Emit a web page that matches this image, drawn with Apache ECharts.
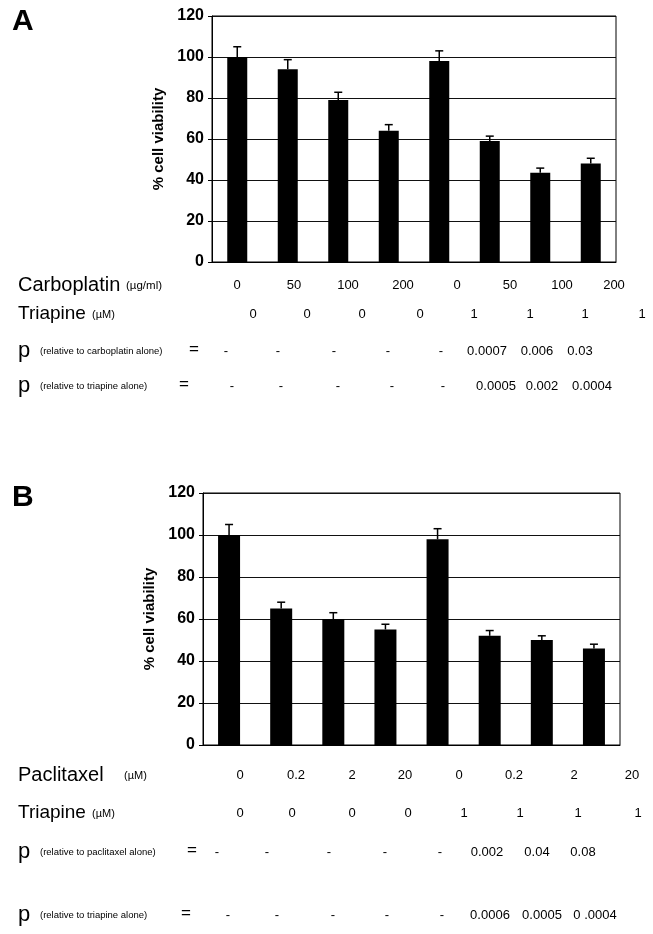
<!DOCTYPE html>
<html><head><meta charset="utf-8">
<script src="https://cdn.jsdelivr.net/npm/echarts@6/dist/echarts.min.js"></script>
<style>html,body{margin:0;padding:0;background:#fff}#c{width:653px;height:934px}</style>
</head><body><div id="c"></div>
<script>
// ---- data ----
const groups = ['G1','G2','G3','G4','G5','G6','G7','G8'];
const yTicks = [0, 20, 40, 60, 80, 100, 120];
// Panel A
const carboplatinDose = ['0','50','100','200','0','50','100','200'];
const triapineDoseA = ['0','0','0','0','1','1','1','1'];
const pVsCarboplatin = ['-','-','-','-','-','0.0007','0.006','0.03'];
const pVsTriapineA = ['-','-','-','-','-','0.0005','0.002','0.0004'];
const viabilityA = [100, 94, 79, 64, 98, 59, 43.5, 48];
const errorA = [5, 4.7, 3.8, 3, 5, 2.4, 2.3, 2.6];
// Panel B
const paclitaxelDose = ['0','0.2','2','20','0','0.2','2','20'];
const triapineDoseB = ['0','0','0','0','1','1','1','1'];
const pVsPaclitaxel = ['-','-','-','-','-','0.002','0.04','0.08'];
const pVsTriapineB = ['-','-','-','-','-','0.0006','0.0005','0 .0004'];
const viabilityB = [100, 65, 60, 55, 98, 52, 50, 46];
const errorB = [5, 3, 3, 2.5, 5, 2.5, 2, 2];

// ---- layout (positions only) ----
const FONT = '"Liberation Sans", Arial, sans-serif';
const rowX = {
  carbo: [237, 294, 348, 403, 457, 510, 562, 614],
  triaA: [253, 307, 362, 420, 474, 530, 585, 642],
  p1A:   [226, 278, 334, 388, 441, 487, 537, 580],
  p2A:   [232, 281, 338, 392, 443, 496, 542, 592],
  pacl:  [240, 296, 352, 405, 459, 514, 574, 632],
  triaB: [240, 292, 352, 408, 464, 520, 578, 638],
  p1B:   [217, 267, 329, 385, 440, 487, 537, 583],
  p2B:   [228, 277, 333, 387, 442, 490, 542, 595]
};
const rowY = {carbo: 285, triaA: 314, p1A: 351, p2A: 386, pacl: 775, triaB: 813, p1B: 852, p2B: 915};

function txt(s, x, y, size, weight, align) {
  return {type:'text', x:x, y:y, style:{text:s, font:(weight||'normal')+' '+size+'px '+FONT,
    fill:'#000', align:align||'center', verticalAlign:'middle'}};
}
function row(vals, xs, y) { return vals.map((v,i)=>txt(v, xs[i], y, 13)); }

const graphics = [].concat(
  [txt('A', 12, 22, 30, 'bold', 'left'), txt('B', 12, 498, 30, 'bold', 'left')],
  [txt('Carboplatin', 18, rowY.carbo, 20, 'normal', 'left'), txt('(µg/ml)', 126, rowY.carbo+1, 11.5, 'normal', 'left')],
  row(carboplatinDose, rowX.carbo, rowY.carbo),
  [txt('Triapine', 18, rowY.triaA, 19, 'normal', 'left'), txt('(µM)', 92, rowY.triaA+1, 11, 'normal', 'left')],
  row(triapineDoseA, rowX.triaA, rowY.triaA),
  [txt('p', 18, rowY.p1A, 22, 'normal', 'left'), txt('(relative to carboplatin alone)', 40, rowY.p1A, 9.5, 'normal', 'left'), txt('=', 194, rowY.p1A-2, 17, 'normal', 'center')],
  row(pVsCarboplatin, rowX.p1A, rowY.p1A),
  [txt('p', 18, rowY.p2A, 22, 'normal', 'left'), txt('(relative to triapine alone)', 40, rowY.p2A, 9.5, 'normal', 'left'), txt('=', 184, rowY.p2A-2, 17, 'normal', 'center')],
  row(pVsTriapineA, rowX.p2A, rowY.p2A),
  [txt('Paclitaxel', 18, rowY.pacl, 20, 'normal', 'left'), txt('(µM)', 124, rowY.pacl+1, 11, 'normal', 'left')],
  row(paclitaxelDose, rowX.pacl, rowY.pacl),
  [txt('Triapine', 18, rowY.triaB, 19, 'normal', 'left'), txt('(µM)', 92, rowY.triaB+1, 11, 'normal', 'left')],
  row(triapineDoseB, rowX.triaB, rowY.triaB),
  [txt('p', 18, rowY.p1B, 22, 'normal', 'left'), txt('(relative to paclitaxel alone)', 40, rowY.p1B, 9.5, 'normal', 'left'), txt('=', 192, rowY.p1B-2, 17, 'normal', 'center')],
  row(pVsPaclitaxel, rowX.p1B, rowY.p1B),
  [txt('p', 18, rowY.p2B, 22, 'normal', 'left'), txt('(relative to triapine alone)', 40, rowY.p2B, 9.5, 'normal', 'left'), txt('=', 186, rowY.p2B-2, 17, 'normal', 'center')],
  row(pVsTriapineB, rowX.p2B, rowY.p2B)
);

function errBar(params, api) {
  const i = api.value(0), v = api.value(1), e = api.value(2);
  const a = api.coord([i, v]), b = api.coord([i, v + e]);
  return {type:'group', children:[
    {type:'line', shape:{x1:a[0], y1:a[1], x2:b[0], y2:b[1]}, style:{stroke:'#000', lineWidth:1.5}},
    {type:'line', shape:{x1:b[0]-4, y1:b[1], x2:b[0]+4, y2:b[1]}, style:{stroke:'#000', lineWidth:1.5}}
  ]};
}
function yAxisCfg(gi) {
  return {gridIndex:gi, type:'value', min:yTicks[0], max:yTicks[yTicks.length-1], interval:yTicks[1]-yTicks[0],
    name:'% cell viability', nameLocation:'middle', nameGap:44,
    nameTextStyle:{fontFamily:FONT, fontWeight:'bold', fontSize:15, color:'#000'},
    axisLine:{show:true, lineStyle:{color:'#000', width:1}},
    axisTick:{show:true, length:4, lineStyle:{color:'#000'}},
    axisLabel:{fontFamily:FONT, fontWeight:'bold', fontSize:16, color:'#000', margin:8},
    splitLine:{show:true, lineStyle:{color:'#111', width:1}}};
}
function xAxisCfg(gi) {
  return {gridIndex:gi, type:'category', data:groups,
    axisLine:{show:true, lineStyle:{color:'#000', width:1}}, axisTick:{show:false}, axisLabel:{show:false}};
}

const chart = echarts.init(document.getElementById('c'), null, {renderer:'canvas'});
chart.setOption({
  animation:false,
  backgroundColor:'#fff',
  grid:[
    {left:212, top:16, width:404, height:246, show:true, borderColor:'#000', borderWidth:1, backgroundColor:'transparent'},
    {left:203, top:493, width:417, height:252, show:true, borderColor:'#000', borderWidth:1, backgroundColor:'transparent'}
  ],
  xAxis:[xAxisCfg(0), xAxisCfg(1)],
  yAxis:[yAxisCfg(0), yAxisCfg(1)],
  series:[
    {type:'bar', xAxisIndex:0, yAxisIndex:0, data:viabilityA, barWidth:20, itemStyle:{color:'#000'}},
    {type:'custom', xAxisIndex:0, yAxisIndex:0, renderItem:errBar, encode:{x:0, y:1}, z:3,
      data:viabilityA.map((v,i)=>[i, v, errorA[i]])},
    {type:'bar', xAxisIndex:1, yAxisIndex:1, data:viabilityB, barWidth:22, itemStyle:{color:'#000'}},
    {type:'custom', xAxisIndex:1, yAxisIndex:1, renderItem:errBar, encode:{x:0, y:1}, z:3,
      data:viabilityB.map((v,i)=>[i, v, errorB[i]])}
  ],
  graphic:graphics
});
</script></body></html>
